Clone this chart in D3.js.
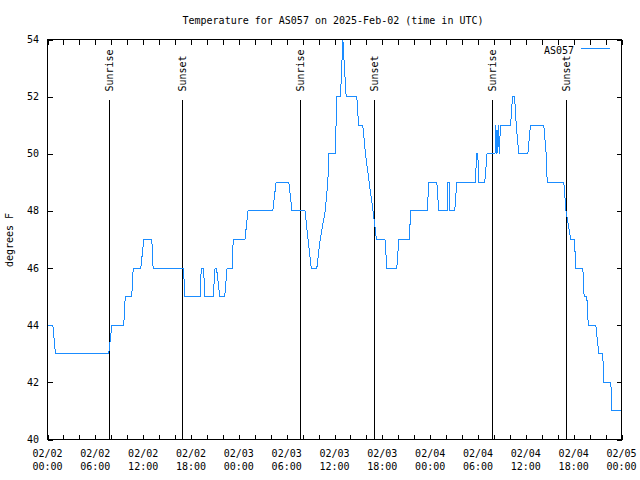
<!DOCTYPE html>
<html><head><meta charset="utf-8">
<script src="https://cdn.jsdelivr.net/npm/d3@7"></script>
<style>
body{margin:0;background:#fff}
text{font-family:"DejaVu Sans Mono","Liberation Mono",monospace;font-size:10px;fill:#000}
</style>
</head><body><svg id="c" width="640" height="480"></svg>
<script>
const station = "AS057";
const title = "Temperature for AS057 on 2025-Feb-02 (time in UTC)";
const yLabel = "degrees F";
const times = [
"02-02 00:00","02-02 00:40","02-02 01:00","02-02 07:41","02-02 08:04","02-02 09:34","02-02 09:45","02-02 10:34","02-02 10:45","02-02 11:42","02-02 12:05","02-02 13:05","02-02 13:15","02-02 17:04","02-02 17:13","02-02 19:09","02-02 19:17","02-02 19:34","02-02 19:45","02-02 20:47","02-02 21:01","02-02 21:12","02-02 21:37","02-02 22:14","02-02 22:32","02-02 23:09","02-02 23:18",
"02-03 00:46","02-03 01:09","02-03 04:16","02-03 04:40","02-03 06:16","02-03 06:40","02-03 08:18","02-03 08:41","02-03 09:05","02-03 09:47","02-03 10:12","02-03 10:50","02-03 11:10","02-03 11:17","02-03 12:08","02-03 12:15","02-03 12:45","02-03 13:03","02-03 13:15","02-03 13:28","02-03 14:48","02-03 15:01","02-03 15:33","02-03 15:53","02-03 16:21","02-03 16:50","02-03 17:16","02-03 18:20","02-03 18:34","02-03 19:49","02-03 20:04","02-03 21:22","02-03 21:34","02-03 23:38","02-03 23:50",
"02-04 00:50","02-04 01:05","02-04 02:10","02-04 02:14","02-04 02:26","02-04 02:29","02-04 03:05","02-04 03:20","02-04 05:43","02-04 05:47","02-04 05:59","02-04 06:04","02-04 06:51","02-04 07:08","02-04 08:08","02-04 08:14","02-04 08:23","02-04 08:32","02-04 08:40","02-04 08:49","02-04 10:05","02-04 10:20","02-04 10:35","02-04 10:48","02-04 11:07","02-04 12:15","02-04 12:35","02-04 14:15","02-04 14:33","02-04 14:41","02-04 16:46","02-04 17:02","02-04 17:38","02-04 18:06","02-04 18:16","02-04 19:09","02-04 19:19","02-04 19:39","02-04 19:50","02-04 20:47","02-04 21:09","02-04 21:39","02-04 21:47","02-04 22:40","02-04 22:47",
"02-05 00:00"];
const temps = [
44,44,43,43,44,44,45,45,46,46,47,47,46,46,45,45,46,46,45,45,46,46,45,45,46,46,47,
47,48,48,49,49,48,48,47,46,46,47,48,49,50,50,52,52,54,53,52,52,51,51,50,49,48,47,47,46,46,47,47,48,48,49,
49,48,48,49,49,48,48,49,49,50,50,49,49,50,50,51,50,51,50,51,51,52,52,51,50,50,51,51,50,49,49,48,47,47,46,46,45,45,44,44,43,43,42,42,41,
41];
const sunrise = ["02-02 07:41","02-03 07:39","02-04 07:44"];
const sunset = ["02-02 16:51","02-03 16:56","02-04 17:01"];
const yTicks = [40,42,44,46,48,50,52,54];
const xLabelDates = ["02/02","02/02","02/02","02/02","02/03","02/03","02/03","02/03","02/04","02/04","02/04","02/04","02/05"];
const xLabelHours = ["00:00","06:00","12:00","18:00","00:00","06:00","12:00","18:00","00:00","06:00","12:00","18:00","00:00"];

const parse = s => d3.utcParse("%Y-%m-%d %H:%M")("2025-" + s);
const t0 = parse("02-02 00:00"), t1 = parse("02-05 00:00");
const L = 47.5, R = 621.5, T = 39.5, B = 439.5;
const x = d3.scaleUtc().domain([t0, t1]).range([L, R]);
const y = d3.scaleLinear().domain([40, 54]).range([B, T]);
const svg = d3.select("#c");

const minorTicks = d3.utcHour.every(2).range(t0, new Date(+t1 + 1));
const labelTicks = d3.utcHour.every(6).range(t0, new Date(+t1 + 1));

function styleAxis(g){ g.select(".domain").remove(); g.selectAll("line").attr("stroke","#000").attr("shape-rendering","crispEdges"); }
svg.append("g").attr("transform",`translate(0,${B})`)
  .call(d3.axisBottom(x).tickValues(minorTicks).tickSize(-5).tickFormat("")).call(styleAxis);
svg.append("g").attr("transform",`translate(0,${T})`)
  .call(d3.axisTop(x).tickValues(minorTicks).tickSize(-5).tickFormat("")).call(styleAxis);
svg.append("g").attr("transform",`translate(${L},0)`)
  .call(d3.axisLeft(y).tickValues(yTicks).tickSize(-5).tickFormat("")).call(styleAxis);
svg.append("g").attr("transform",`translate(${R},0)`)
  .call(d3.axisRight(y).tickValues(yTicks).tickSize(-5).tickFormat("")).call(styleAxis);

// y labels
svg.append("g").selectAll("text").data(yTicks).join("text")
  .attr("x", 39).attr("y", d => y(d) + 3.5).attr("text-anchor","end").text(d => d);
// x labels
const xl = svg.append("g").selectAll("g").data(labelTicks).join("g");
xl.append("text").attr("x", d => x(d)).attr("y", 457).attr("text-anchor","middle").text((d,i) => xLabelDates[i]);
xl.append("text").attr("x", d => x(d)).attr("y", 470).attr("text-anchor","middle").text((d,i) => xLabelHours[i]);

// sunrise / sunset markers
const marks = sunrise.map(s => ({t: parse(s), lab: "Sunrise"})).concat(sunset.map(s => ({t: parse(s), lab: "Sunset"})));
const mg = svg.append("g");
marks.forEach(m => {
  const xp = Math.round(x(m.t)) + 0.5;
  mg.append("line").attr("x1", xp).attr("x2", xp).attr("y1", B - 0.85*(B-T)).attr("y2", B)
    .attr("stroke","#000").attr("shape-rendering","crispEdges");
  mg.append("text").attr("transform", `translate(${xp+3.5},${B - 0.87*(B-T)}) rotate(-90)`)
    .attr("text-anchor","start").text(m.lab);
});

// data line
const data = times.map((s,i) => ({t: parse(s), v: temps[i]}));
svg.append("path").datum(data)
  .attr("fill","none").attr("stroke","#1a8cff").attr("stroke-width",1).attr("shape-rendering","crispEdges")
  .attr("d", d3.line().x(d => x(d.t)).y(d => y(d.v)));

// frame
svg.append("rect").attr("x", L).attr("y", T).attr("width", R-L).attr("height", B-T)
  .attr("fill","none").attr("stroke","#000").attr("shape-rendering","crispEdges");

// title, y label
svg.append("text").attr("x", 333).attr("y", 24).attr("text-anchor","middle").text(title);
svg.append("text").attr("transform","translate(13,240) rotate(-90)").attr("text-anchor","middle").text(yLabel);

// legend
svg.append("text").attr("x", 574).attr("y", 53.5).attr("text-anchor","end").text(station);
svg.append("line").attr("x1", 581).attr("x2", 610).attr("y1", 48.5).attr("y2", 48.5)
  .attr("stroke","#1a8cff").attr("shape-rendering","crispEdges");
</script>
</body></html>
